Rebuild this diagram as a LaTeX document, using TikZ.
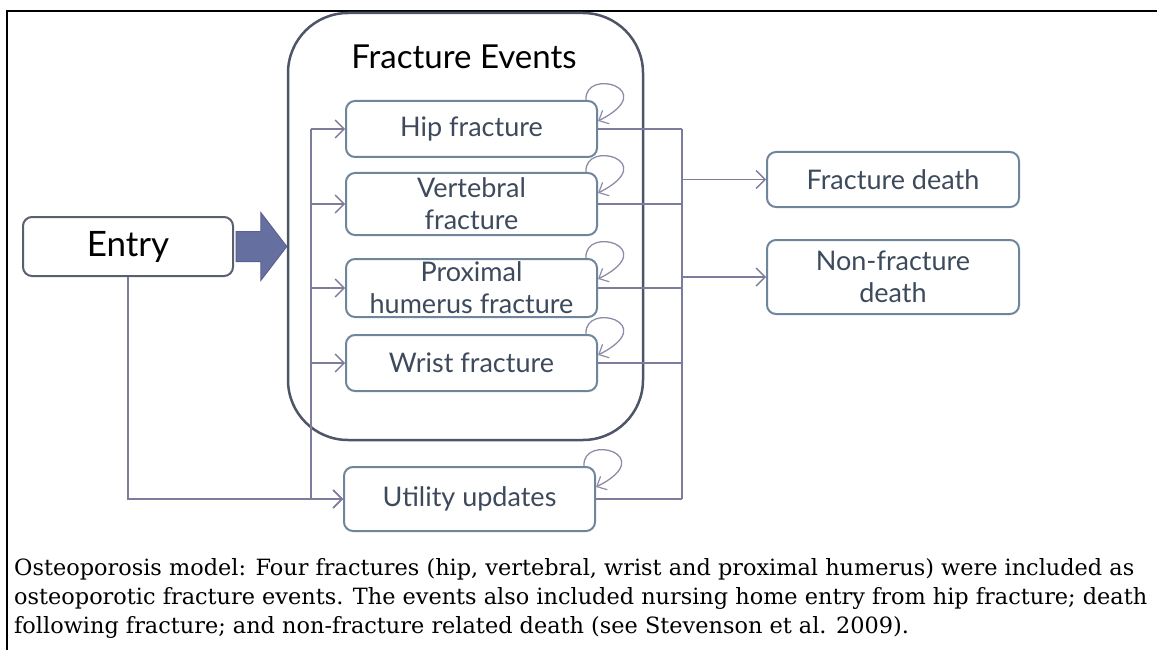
\documentclass[tikz,border=0pt]{standalone}
\usepackage{fontspec}
\setmainfont{DejaVu Serif}
\newfontfamily\diagfont{Lato}
\usetikzlibrary{arrows.meta,calc}
\definecolor{boxline}{HTML}{6F859C}
\definecolor{boxtext}{HTML}{3D4A5C}
\definecolor{connline}{HTML}{7C7C9C}
\definecolor{bigline}{HTML}{4F5568}
\definecolor{arrowfill}{HTML}{6670A0}
\definecolor{arrowline}{HTML}{5A6090}
\definecolor{entryline}{HTML}{5A5F6F}
\definecolor{loopcol}{HTML}{8C8CA8}
\tikzset{
  fbox/.style={draw=boxline, line width=2pt, rounded corners=9pt, text=boxtext,
    font=\diagfont\fontsize{27}{32}\selectfont, align=center,
    minimum width=251pt, inner sep=0pt},
  conn/.style={draw=connline, line width=1.6pt},
  tip/.style={-{Straight Barb[length=9pt,width=18pt,line width=1.4pt]}},
  loopl/.style={draw=loopcol, line width=1.3pt, -{Straight Barb[length=8pt,width=15pt,line width=1.2pt]}},
  bigarrow/.style={fill=arrowfill, draw=arrowline, line width=1pt, line join=miter},
}
\newcommand\selfloop[1]{\draw[loopl] ($(#1.north east)+(-12,0)$) .. controls +(-2,-33) and +(64,-32) .. ($(#1.north east)+(0,21)$);}
\begin{document}
\begin{tikzpicture}[x=1pt,y=-1pt]
\useasboundingbox (0,0) rectangle (1157,650);
% frame
\draw[black, line width=1.3pt] (7,650) -- (7,11) -- (1157,11);
% big container
\node[draw=bigline, line width=2.5pt, rounded corners=60pt, minimum width=355pt, minimum height=427pt, inner sep=0pt] (events) at (465.5,226.5) {};
\node[font=\diagfont\fontsize{33}{36}\selectfont, text=black] (title) at (464,57) {Fracture Events};
% entry
\node[draw=entryline, line width=2pt, rounded corners=9pt, minimum width=210pt, minimum height=59pt, font=\diagfont\fontsize{35}{38}\selectfont, text=black, inner sep=0pt] (entry) at (128,246.5) {Entry};
% fracture boxes
\node[fbox, minimum height=56pt] (hip) at (471.5,129) {Hip fracture};
\node[fbox, minimum height=62pt] (vert) at (471.5,204) {Vertebral\\fracture};
\node[fbox, minimum height=58pt] (prox) at (471.5,288) {Proximal\\humerus fracture};
\node[fbox, minimum height=56pt] (wrist) at (471.5,363) {Wrist fracture};
\node[fbox, minimum height=64pt] (util) at (469.5,499) {Utility updates};
\node[fbox, minimum width=252pt, minimum height=55pt] (fdeath) at (893,179.5) {Fracture death};
\node[fbox, minimum width=252pt, minimum height=74pt] (nfdeath) at (893,277) {Non-fracture\\death};
% big arrow
\coordinate (as) at ($(entry.east)+(2,0)$);
\coordinate (at) at (entry.east -| events.west);
\draw[bigarrow] ($(as)+(0,-15)$) -- ($(at)+(-26,-15)$) -- ($(at)+(-26,-34)$) -- (at) -- ($(at)+(-26,34)$) -- ($(at)+(-26,15)$) -- ($(as)+(0,15)$) -- cycle;
% left bus
\coordinate (lbus) at (311,0);
\draw[conn] (hip.west -| lbus) -- (util.west -| lbus);
\foreach \n in {hip,vert,prox,wrist,util}{\draw[conn,tip] (\n.west -| lbus) -- (\n.west);}
\draw[conn,tip] (entry.south) |- (util.west);
% right bus
\coordinate (rbus) at (682,0);
\draw[conn] (hip.east -| rbus) -- (util.east -| rbus);
\foreach \n in {hip,vert,prox,wrist,util}{\draw[conn] (\n.east) -- (\n.east -| rbus);}
\draw[conn,tip] (rbus |- fdeath.west) -- (fdeath.west);
\draw[conn,tip] (rbus |- nfdeath.west) -- (nfdeath.west);
% self loops
\selfloop{hip}
\selfloop{vert}
\selfloop{prox}
\selfloop{wrist}
\selfloop{util}
% caption
\tikzset{captext/.style={anchor=base west, inner sep=0pt, font=\fontsize{22.4}{29}\selectfont}}
\node[captext] (cap1) at (14,575) {Osteoporosis model: Four fractures (hip, vertebral, wrist and proximal humerus) were included as};
\node[captext] (cap2) at (14,604) {osteoporotic fracture events. The events also included nursing home entry from hip fracture; death};
\node[captext] (cap3) at (14,633) {following fracture; and non-fracture related death (see Stevenson et al. 2009).};
\end{tikzpicture}
\end{document}
